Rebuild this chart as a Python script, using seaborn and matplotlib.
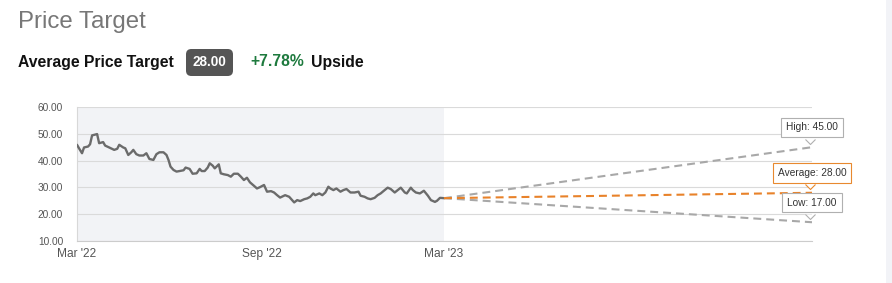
import matplotlib
matplotlib.use("Agg")
import matplotlib.pyplot as plt
from matplotlib.path import Path
from matplotlib.markers import MarkerStyle
import matplotlib.transforms as mtransforms
from matplotlib.patches import Rectangle, FancyBboxPatch
import seaborn as sns
import pandas as pd

# ---------------- data ----------------
price_start = "2022-03-01"
price_days = [0, 2, 5, 7, 11, 13, 15, 17, 20, 22, 26, 28, 32, 37, 40, 42, 46, 48, 51, 54,
              56, 59, 62, 66, 69, 72, 76, 79, 82, 86, 89, 91, 93, 96, 99, 102, 106, 108, 112, 115,
              119, 122, 124, 127, 130, 132, 135, 137, 141, 143, 146, 150, 153, 156, 160, 163, 166, 169, 172, 176,
              179, 182, 186, 189, 193, 196, 199, 202, 207, 211, 216, 219, 222, 226, 229, 232, 235, 237, 241, 244,
              247, 250, 252, 255, 258, 262, 265, 268, 272, 276, 280, 282, 286, 289, 292, 296, 299, 302, 306, 309,
              312, 316, 319, 322, 326, 328, 332, 334, 337, 341, 345, 349, 352, 356, 358, 361, 365]
price_values = [45.9, 44.6, 42.75, 44.9, 45.25, 46.1, 49.4, 49.6, 49.9, 46.5, 46.9, 45.6, 44.9, 44.0, 44.4, 45.9, 44.9, 44.6, 42.1, 43.1,
                44.0, 42.4, 41.9, 41.9, 42.75, 40.6, 40.25, 42.4, 43.1, 43.1, 42.1, 40.25, 37.75, 36.5, 35.9, 36.1, 36.4, 37.4, 36.9, 35.1,
                35.25, 36.9, 36.1, 36.1, 37.4, 39.0, 38.1, 37.1, 38.6, 35.25, 34.9, 34.6, 34.0, 35.1, 35.1, 34.0, 32.75, 33.6, 31.9, 30.6,
                29.6, 30.1, 30.9, 28.4, 28.6, 28.1, 27.1, 26.2, 27.1, 26.5, 24.4, 25.25, 24.9, 25.6, 25.9, 26.5, 27.75, 27.1, 27.75, 27.1,
                28.1, 30.25, 29.6, 29.0, 29.6, 28.4, 29.0, 29.4, 28.1, 28.1, 28.4, 26.9, 26.5, 25.9, 25.6, 26.1, 27.1, 27.75, 29.0, 29.9,
                29.4, 28.1, 29.0, 29.9, 28.1, 27.75, 29.9, 29.0, 28.1, 27.75, 28.75, 26.9, 25.25, 24.6, 25.0, 26.1, 25.98]

forecast_start = "2023-03-01"
forecast_end = "2024-03-01"
target_names = ["High", "Average", "Low"]
target_values = [45.00, 28.00, 17.00]
last_price = 25.98
average_target = 28.00
upside_pct = 7.78

tick_dates = ["2022-03-01", "2022-09-01", "2023-03-01"]
tick_labels = ["Mar '22", "Sep '22", "Mar '23"]
y_ticks = [10, 20, 30, 40, 50, 60]

# ---------------- style ----------------
sns.set_style("white")
plt.rcParams["font.family"] = ["Liberation Sans", "DejaVu Sans"]

W, H = 892, 283
fig = plt.figure(figsize=(W / 100, H / 100), dpi=100)

# right strip
fig.patches.append(Rectangle((886 / W, 0), 6 / W, 1, transform=fig.transFigure,
                             facecolor="#f2f3f7", edgecolor="none", zorder=0))

ax = fig.add_axes([77 / W, 1 - 241 / H, (812 - 77) / W, (241 - 107) / H])
ax.set_facecolor("white")

df = pd.DataFrame({"date": pd.to_datetime(price_start) + pd.to_timedelta(price_days, unit="D"),
                   "price": price_values})

x0 = pd.to_datetime(price_start)
xs = pd.to_datetime(forecast_start)
xe = pd.to_datetime(forecast_end)

ax.set_xlim(x0, xe)
ax.set_ylim(10, 60)

# shaded history region
ax.axvspan(x0, xs, color="#f2f3f6", zorder=0, lw=0)

# gridlines
for yv in y_ticks:
    ax.axhline(yv, color="#dadada", lw=0.8, zorder=1)

# price line
sns.lineplot(data=df, x="date", y="price", ax=ax, color="#6b6b6b", lw=1.7, zorder=3)

# forecast lines
colors = {"High": "#a8a8a8", "Average": "#e8822a", "Low": "#a8a8a8"}
for name, val in zip(target_names, target_values):
    fd = pd.DataFrame({"date": [xs, xe], "v": [last_price, val]})
    sns.lineplot(data=fd, x="date", y="v", ax=ax, color=colors[name], lw=1.5,
                 linestyle=(0, (3.8, 2.4)), zorder=4 if name == "Average" else 3)

# annotations
tri_path = Path([(-1, 1), (0, 0), (1, 1)], [Path.MOVETO, Path.LINETO, Path.LINETO])
for name, val in zip(target_names, target_values):
    ec = "#e8892f" if name == "Average" else "#b0b0b0"
    ax.annotate(f"{name}: {val:.2f}", xy=(xe, val), xytext=(0, 14.2), textcoords="offset points",
                ha="center", va="center", fontsize=7.3, color="#333333", zorder=6,
                annotation_clip=False,
                bbox=dict(boxstyle="square,pad=0.48", fc="white", ec=ec, lw=0.8))
    tr = mtransforms.offset_copy(ax.transData, fig=fig, x=-1.5, y=3.5, units="dots")
    ax.plot([xe], [val], marker=MarkerStyle(tri_path), markersize=7.2, markerfacecolor="white",
            markeredgecolor=ec, markeredgewidth=0.8, transform=tr, zorder=7, clip_on=False, ls="none")

# axes styling
ax.set_xticks(pd.to_datetime(tick_dates))
ax.set_xticklabels(tick_labels)
ax.set_yticks(y_ticks)
ax.set_yticklabels([f"{v:.2f}" for v in y_ticks])
ax.tick_params(axis="x", length=4, color="#cccccc", width=0.8, labelsize=8.6, labelcolor="#555555", pad=1)
ax.tick_params(axis="y", length=0, labelsize=7.3, labelcolor="#555555", pad=10)
ax.set_xlabel("")
ax.set_ylabel("")
for s in ["top", "right"]:
    ax.spines[s].set_visible(False)
ax.spines["left"].set_color("#d8d8d8")
ax.spines["left"].set_linewidth(0.8)
ax.spines["bottom"].set_color("#cccccc")
ax.spines["bottom"].set_linewidth(0.8)

# header texts
fig.text(18 / W, 1 - 22 / H, "Price Target", fontsize=17.3, color="#777777", va="center", ha="left")
fig.text(18 / W, 1 - 62 / H, "Average Price Target", fontsize=11.3, fontweight="bold", color="#111111",
         va="center", ha="left")
box = FancyBboxPatch((186 / W, 1 - 76 / H), 47 / W, 27 / H, boxstyle="round,pad=0,rounding_size=0.006",
                     transform=fig.transFigure, facecolor="#555555", edgecolor="none",
                     mutation_aspect=W / H)
fig.patches.append(box)
fig.text(209.5 / W, 1 - 62.5 / H, f"{average_target:.2f}", fontsize=9.8, fontweight="bold", color="white",
         va="center", ha="center")
fig.text(250 / W, 1 - 62 / H, f"+{upside_pct:.2f}%", fontsize=11.3, fontweight="bold", color="#1e7a3e",
         va="center", ha="left")
fig.text(311 / W, 1 - 62 / H, "Upside", fontsize=11.3, fontweight="bold", color="#111111",
         va="center", ha="left")

fig.savefig("out.png", dpi=100)
